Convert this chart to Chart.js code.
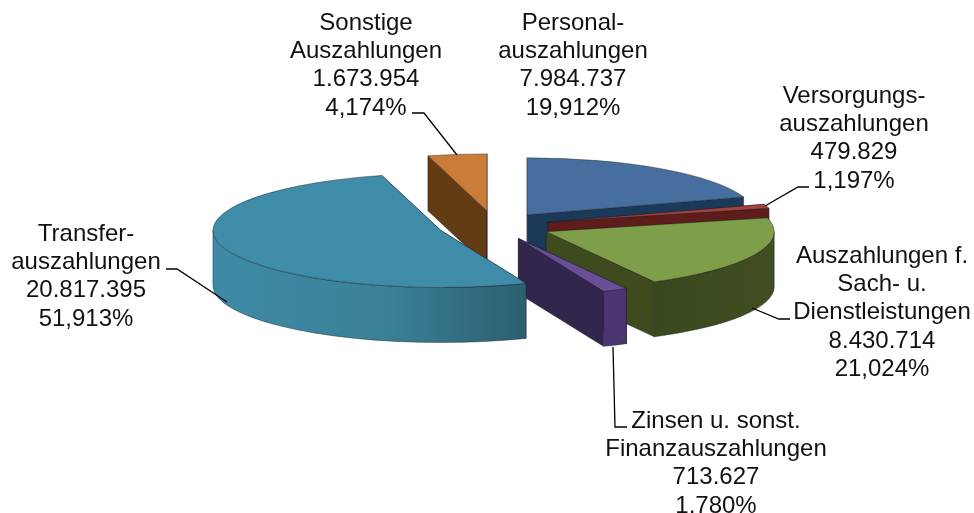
<!DOCTYPE html>
<html><head><meta charset="utf-8">
<style>html,body{margin:0;padding:0;background:#fff}canvas{display:block}</style>
<script src="https://cdn.jsdelivr.net/npm/chart.js@4/dist/chart.umd.min.js"></script>
</head><body><canvas id="c" width="974" height="513"></canvas>
<script>
const categories = ["Personal-\nauszahlungen","Versorgungs-\nauszahlungen","Auszahlungen f.\nSach- u.\nDienstleistungen","Zinsen u. sonst.\nFinanzauszahlungen","Transfer-\nauszahlungen","Sonstige\nAuszahlungen"];
const values = [7984737,479829,8430714,713627,20817395,1673954];
const topColors = ["#466f9f","#a5423f","#7f9e4a","#6a4e96","#3e8ca8","#cb7c38"];
const wallColors = ["#1b3a5a","#5e1c1a","#3d4b1f","#33264d","#2f6c80","#643c14"];
const outerColors = [["#1b3a5a","#1b3a5a"],["#5e1c1a","#5e1c1a"],["#3a481d","#404e22"],["#4a3570","#4a3570"],["#3e8aa5","#3a8198","#2c5f6e"],["#643c14","#643c14"]];
const explode = [55,55,56,55,57,61];
const drawOrder = [5,0,1,2,3,4];
const flatten = 0.25, depth = 55;
const labelCentres = [573,854,882,716,86,366];
const labelFirstBaseline = [30,103,263,428,241,30];
const leaders = [null,[[765,206],[798,187],[809,187]],[[752,308],[779,319],[790,319]],[[613,347],[615,427],[627,427]],[[166,269],[177,269],[227,302]],[[412,113],[424,113],[457,155]]];

const pie3d = {
  id:'pie3d',
  beforeDatasetDraw(){ return false; },
  afterDatasetsDraw(chart){
    const ctx = chart.ctx, arcs = chart.getDatasetMeta(0).data;
    drawOrder.forEach(i=>{
      const el = arcs[i];
      const {x,y,startAngle:a0,endAngle:a1,outerRadius:R} = el.getProps(['x','y','startAngle','endAngle','outerRadius']);
      const mid=(a0+a1)/2, off=el.options.offset;
      const ax=x+off*Math.cos(mid), ay=y+off*Math.sin(mid)*flatten, Ry=R*flatten;
      const px=t=>ax+R*Math.cos(t), py=t=>ay+Ry*Math.sin(t);
      ctx.save();
      ctx.lineJoin='round'; ctx.lineWidth=0.8; ctx.strokeStyle='rgba(30,30,40,0.55)';
      [a0,a1].forEach(t=>{
        ctx.beginPath();
        ctx.moveTo(ax,ay);ctx.lineTo(px(t),py(t));ctx.lineTo(px(t),py(t)+depth);ctx.lineTo(ax,ay+depth);ctx.closePath();
        ctx.fillStyle=wallColors[i];ctx.fill();ctx.stroke();
      });
      const b0=Math.max(a0,0), b1=Math.min(a1,Math.PI);
      if(b1>b0){
        const xs=[px(b0),px(b1)];
        const st=outerColors[i];
        const lo=a1>Math.PI?ax-R:Math.min(...xs), hi=Math.max(...xs);
        const gr=ctx.createLinearGradient(lo,0,hi,0);
        st.forEach((c,n)=>gr.addColorStop(st.length===3?[0,0.55,1][n]:n/(st.length-1),c));
        ctx.beginPath();
        ctx.ellipse(ax,ay,R,Ry,0,b0,b1);
        ctx.ellipse(ax,ay+depth,R,Ry,0,b1,b0,true);
        ctx.closePath();
        ctx.fillStyle=gr;ctx.fill();ctx.stroke();
      }
      ctx.beginPath();
      ctx.moveTo(ax,ay);
      ctx.ellipse(ax,ay,R,Ry,0,a0,a1);
      ctx.closePath();
      ctx.fillStyle=el.options.backgroundColor;ctx.fill();ctx.stroke();
      ctx.restore();
    });
  },
  afterDraw(chart){
    const ctx=chart.ctx;
    const total=values.reduce((a,b)=>a+b,0);
    ctx.save();
    ctx.strokeStyle='#000';ctx.lineWidth=1.3;
    leaders.forEach(l=>{ if(!l) return; ctx.beginPath(); l.forEach((p,n)=>n?ctx.lineTo(p[0],p[1]):ctx.moveTo(p[0],p[1])); ctx.stroke(); });
    ctx.fillStyle='#111';ctx.font='24px "Liberation Sans"';ctx.textAlign='center';ctx.textBaseline='alphabetic';
    categories.forEach((c,i)=>{
      const lines=c.split('\n');
      lines.push(values[i].toLocaleString('de-DE'));
      lines.push((values[i]/total*100).toFixed(3).replace('.',',')+'%');
      lines.forEach((t,n)=>ctx.fillText(t,labelCentres[i],labelFirstBaseline[i]+n*28.2));
    });
    ctx.restore();
  }
};

new Chart(document.getElementById('c'),{
  type:'pie',
  data:{labels:categories,datasets:[{data:values,backgroundColor:topColors,offset:explode,borderWidth:0}]},
  options:{
    responsive:false,animation:false,radius:228,
    layout:{padding:{left:16,bottom:61}},
    plugins:{legend:{display:false},tooltip:{enabled:false}}
  },
  plugins:[pie3d]
});
</script></body></html>
